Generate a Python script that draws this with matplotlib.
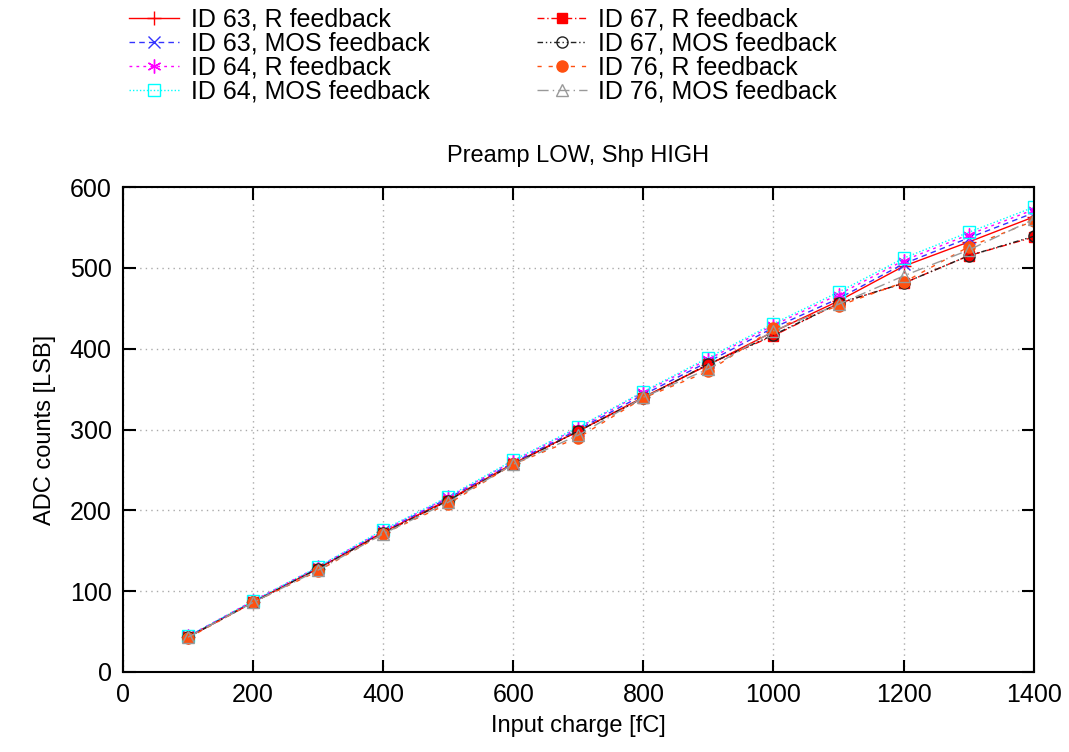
import matplotlib.pyplot as plt

plt.rcParams['font.family'] = ['Liberation Sans', 'DejaVu Sans']

charge = [100, 200, 300, 400, 500, 600, 700, 800, 900, 1000, 1100, 1200, 1300, 1400]

id63_r = [43, 87, 128, 173, 213, 258, 298, 340, 380, 421, 459, 502, 532, 563]
id63_mos = [44, 87, 129, 174, 215, 259, 300, 343, 384, 426, 462, 505, 537, 568]
id64_r = [44, 88, 130, 175, 216, 261, 302, 346, 387, 429, 467, 509, 541, 572]
id64_mos = [44, 88, 130, 176, 217, 262, 303, 347, 389, 431, 470, 512, 544, 575]
id67_r = [43, 86, 128, 172, 212, 257, 298, 339, 381, 416, 456, 481, 515, 538]
id67_mos = [43, 86, 128, 172, 212, 257, 298, 339, 381, 417, 456, 481, 515, 539]
id76_r = [42, 86, 125, 171, 208, 257, 290, 339, 372, 425, 453, 482, 526, 558]
id76_mos = [43, 86, 126, 171, 210, 257, 293, 340, 375, 422, 455, 490, 522, 560]

fig = plt.figure(figsize=(10.69, 7.52), dpi=100)
ax = fig.add_axes([0.115, 0.1064, 0.852, 0.6449])

ax.plot(charge, id63_r, color='red', ls='-', lw=1, marker='+', ms=10, mew=1,
        label='ID 63, R feedback')
ax.plot(charge, id63_mos, color='#3333ff', ls=(0, (4, 3)), lw=1, marker='x', ms=8, mew=1,
        label='ID 63, MOS feedback')
ax.plot(charge, id64_r, color='magenta', ls=(0, (2, 3)), lw=1, marker=(6, 2, 0), ms=10, mew=1,
        label='ID 64, R feedback')
ax.plot(charge, id64_mos, color='cyan', ls=(0, (1, 1.5)), lw=1, marker='s', ms=9, mew=1,
        mfc='none', label='ID 64, MOS feedback')
ax.plot(charge, id67_r, color='red', ls=(0, (5, 2, 1, 2)), lw=1, marker='s', ms=7,
        mec='red', label='ID 67, R feedback')
ax.plot(charge, id67_mos, color='#222222', ls=(0, (4, 2, 1, 2, 1, 2)), lw=1, marker='o', ms=8,
        mfc='none', mew=1, label='ID 67, MOS feedback')
ax.plot(charge, id76_r, color='#ff5010', ls=(0, (3, 5)), lw=1, marker='o', ms=8,
        label='ID 76, R feedback')
ax.plot(charge, id76_mos, color='#999999', ls=(0, (8, 3, 1, 3)), lw=1, marker='^', ms=8,
        mfc='none', mew=1, label='ID 76, MOS feedback')

ax.set_xlim(0, 1400)
ax.set_ylim(0, 600)
ax.set_xticks(range(0, 1401, 200))
ax.set_yticks(range(0, 601, 100))
ax.tick_params(direction='in', length=9, width=1.5, labelsize=18, top=True, right=True, pad=8)
ax.grid(True, color='#aaaaaa', ls=(0, (1, 3)), lw=1)
for s in ax.spines.values():
    s.set_linewidth(1.5)

ax.set_xlabel('Input charge [fC]', fontsize=17, labelpad=6)
ax.set_ylabel('ADC counts [LSB]', fontsize=17, labelpad=10)
ax.set_title('Preamp LOW, Shp HIGH', fontsize=17, pad=18)

fig.legend(loc='upper left', bbox_to_anchor=(0.1, 1.02), ncol=2, frameon=False,
           fontsize=18, handlelength=2.0, handletextpad=0.45, columnspacing=4.3,
           labelspacing=0.0)

plt.savefig('out.png', dpi=100)
